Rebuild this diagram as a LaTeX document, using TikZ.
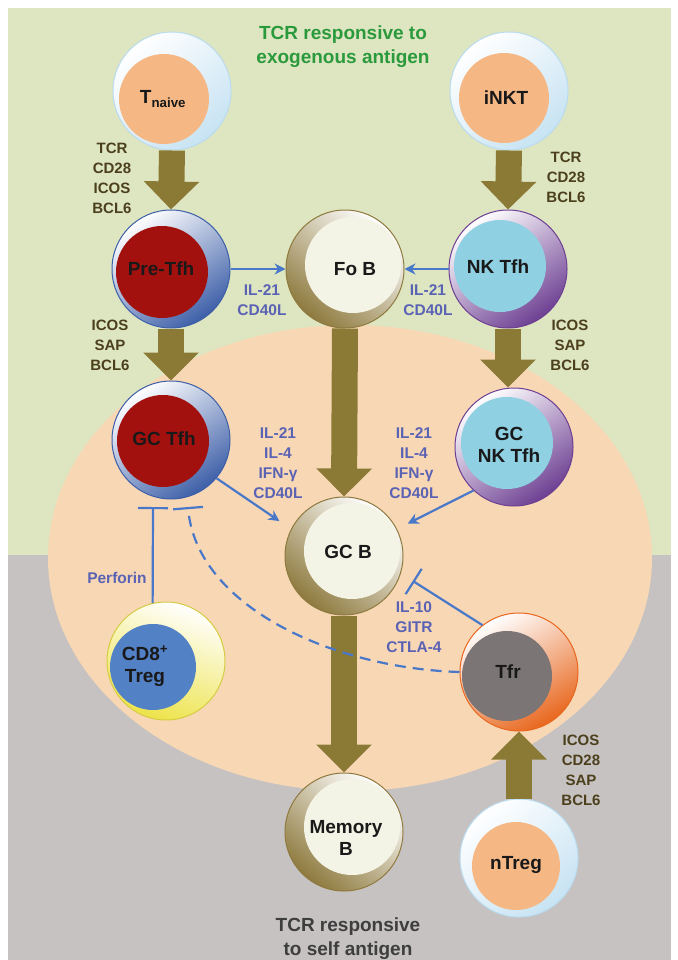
\documentclass[tikz,border=0pt]{standalone}
\usepackage{fontspec}
\setmainfont{Liberation Sans}
\usetikzlibrary{arrows.meta}

\definecolor{bggreen}{HTML}{DEE5C1}
\definecolor{bggray}{HTML}{C6C2C1}
\definecolor{gcpeach}{HTML}{F8D7B5}
\definecolor{arrowolive}{HTML}{8B7A35}
\definecolor{lineblue}{HTML}{4A78C8}
\definecolor{labelblue}{HTML}{5A62B4}
\definecolor{labeldark}{HTML}{4B3F1C}
\definecolor{titlegreen}{HTML}{2A9A3C}
\definecolor{titlegray}{HTML}{3E3E3E}
\definecolor{naivering}{HTML}{B9DCF0}
\definecolor{naiveorange}{HTML}{F5B885}
\definecolor{tfhring}{HTML}{3D5FA8}
\definecolor{tfhred}{HTML}{A3110F}
\definecolor{nkring}{HTML}{6D3F92}
\definecolor{nkblue}{HTML}{8FD0E2}
\definecolor{bring}{HTML}{8E7A3E}
\definecolor{bcream}{HTML}{F4F4E6}
\definecolor{cdring}{HTML}{EDE34A}
\definecolor{cdblue}{HTML}{5281C6}
\definecolor{tfrring}{HTML}{E8671E}
\definecolor{tfrgray}{HTML}{7B7576}

\begin{document}
\begin{tikzpicture}[x=1pt,y=-1pt,
  cell/.style={circle,minimum size=118pt,inner sep=0pt,line width=1pt},
  naivecell/.style={cell,draw=naivering,top color=white,bottom color=naivering!80,shading angle=40},
  tfhcell/.style={cell,draw=tfhring,top color=white,bottom color=tfhring,shading angle=35},
  nkcell/.style={cell,draw=nkring,top color=white,bottom color=nkring,shading angle=35},
  bcell/.style={cell,draw=bring,top color=white,middle color=bring!35,bottom color=bring,shading angle=-40},
  cdcell/.style={cell,draw=cdring!90!black,top color=white,bottom color=cdring,shading angle=-20},
  tfrcell/.style={cell,draw=tfrring,top color=white,bottom color=tfrring,shading angle=30},
  celltext/.style={font=\bfseries\fontsize{19}{22}\selectfont,text=black!90,align=center,inner sep=0pt},
  darklabel/.style={font=\bfseries\fontsize{15}{20}\selectfont,text=labeldark,align=center,inner sep=0pt},
  bluelabel/.style={font=\bfseries\fontsize{15.5}{20}\selectfont,text=labelblue,align=center,inner sep=0pt},
  bigarrow/.style={line width=26pt,draw=arrowolive,-{Triangle[length=28pt,width=54pt]}},
  signal/.style={line width=2.2pt,draw=lineblue,-{Stealth[length=11pt,width=11pt]}},
  inhibit/.style={line width=2.2pt,draw=lineblue,-{Bar[width=30pt,line width=2.2pt]}}]

  \useasboundingbox (0,0) rectangle (677,960);
  \fill[white] (0,0) rectangle (677,960);
  \fill[bggreen] (8,8) rectangle (671,555);
  \fill[bggray] (8,555) rectangle (671,960);
  \fill[gcpeach] (350,558) ellipse (302pt and 233pt);

  \node[titlegreen,anchor=north,align=center,inner sep=0pt,font=\bfseries\fontsize{19}{24}\selectfont] (toptitle) at (343,26) {TCR responsive to\\exogenous antigen};
  \node[titlegray,anchor=north,align=center,inner sep=0pt,font=\bfseries\fontsize{19}{24}\selectfont] (bottomtitle) at (348,918) {TCR responsive\\to self antigen};

  \node[naivecell] (tnaive) at (172,91) {};
  \fill[naiveorange] ([shift={(-8,8)}]tnaive.center) circle (45pt);
  \node[celltext] (tnaivelabel) at ([shift={(-9,8)}]tnaive.center) {T\textsubscript{naive}};

  \node[naivecell] (inkt) at (509,91) {};
  \fill[naiveorange] ([shift={(-5,7)}]inkt.center) circle (45pt);
  \node[celltext] (inktlabel) at ([shift={(-3,7)}]inkt.center) {iNKT};

  \node[tfhcell] (pretfh) at (171,269) {};
  \fill[tfhred] ([shift={(-9,3)}]pretfh.center) circle (46pt);
  \node[celltext] (pretfhlabel) at ([shift={(-10,0)}]pretfh.center) {Pre-Tfh};

  \node[bcell] (fob) at (345,269) {};
  \fill[bcream] ([shift={(8,-4)}]fob.center) circle (48pt);
  \node[celltext] (foblabel) at ([shift={(10,0)}]fob.center) {Fo B};

  \node[nkcell] (nktfh) at (508,269) {};
  \fill[nkblue] ([shift={(-8,-3)}]nktfh.center) circle (46pt);
  \node[celltext] (nktfhlabel) at ([shift={(-10,-2)}]nktfh.center) {NK Tfh};

  \node[tfhcell] (gctfh) at (171,440) {};
  \fill[tfhred] ([shift={(-8,1)}]gctfh.center) circle (46pt);
  \node[celltext] (gctfhlabel) at ([shift={(-7,-1)}]gctfh.center) {GC Tfh};

  \node[nkcell] (gcnktfh) at (514,447) {};
  \fill[nkblue] ([shift={(-7,-4)}]gcnktfh.center) circle (46pt);
  \node[celltext] (gcnktfhlabel) at ([shift={(-5,-2)}]gcnktfh.center) {GC\\NK Tfh};

  \node[bcell] (gcb) at (344,556) {};
  \fill[bcream] ([shift={(8,-5)}]gcb.center) circle (48pt);
  \node[celltext] (gcblabel) at ([shift={(4,-4)}]gcb.center) {GC B};

  \node[cdcell] (cd8) at (166,661) {};
  \fill[cdblue] ([shift={(-13,6)}]cd8.center) circle (43pt);
  \node[celltext] (cd8label) at ([shift={(-21,5)}]cd8.center) {CD8\textsuperscript{+}\\Treg};

  \node[tfrcell] (tfr) at (519,672) {};
  \fill[tfrgray] ([shift={(-12,4)}]tfr.center) circle (45pt);
  \node[celltext] (tfrlabel) at ([shift={(-11,0)}]tfr.center) {Tfr};

  \node[bcell] (memb) at (344,832) {};
  \fill[bcream] ([shift={(8,-5)}]memb.center) circle (48pt);
  \node[celltext] (memblabel) at ([shift={(2,6)}]memb.center) {Memory\\B};

  \node[naivecell] (ntreg) at (519,858) {};
  \fill[naiveorange] ([shift={(-3,8)}]ntreg.center) circle (44pt);
  \node[celltext] (ntreglabel) at ([shift={(-3,7)}]ntreg.center) {nTreg};

  \draw[bigarrow] (tnaive.south) -- (pretfh.north);
  \draw[bigarrow] (inkt.south) -- (nktfh.north);
  \draw[bigarrow] (pretfh.south) -- (gctfh.north);
  \draw[bigarrow] (nktfh.south) -- (nktfh.south |- gcnktfh.north);
  \draw[bigarrow] (fob.south) -- (gcb.north);
  \draw[bigarrow] (gcb.south) -- (memb.north);
  \draw[bigarrow] (ntreg.north) -- (tfr.south);

  \draw[signal] (pretfh.east) -- (fob.west);
  \draw[signal] (nktfh.west) -- (fob.east);
  \draw[signal,shorten >=14pt] (gctfh.-40) -- (gcb.153);
  \draw[signal,shorten >=12pt] (gcnktfh.-133) -- (gcb.27);

  \coordinate (perfbar) at (153,507);
  \coordinate (tfrbar) at (188,507);
  \draw[inhibit] (cd8.103) -- (perfbar);
  \draw[inhibit,dash pattern=on 11pt off 7pt] (tfr.west) .. controls (330,668) and (196,605) .. (tfrbar);
  \draw[inhibit,shorten >=14pt] (tfr.128) -- (gcb.-17);

  \node[darklabel] (tcrleft) at (112,178) {TCR\\CD28\\ICOS\\BCL6};
  \node[darklabel] (tcrright) at (566,177) {TCR\\CD28\\BCL6};
  \node[darklabel] (icosleft) at (110,345) {ICOS\\SAP\\BCL6};
  \node[darklabel] (icosright) at (570,345) {ICOS\\SAP\\BCL6};
  \node[darklabel] (icosntreg) at (581,770) {ICOS\\CD28\\SAP\\BCL6};
  \node[bluelabel] (fobleft) at (262,300) {IL-21\\CD40L};
  \node[bluelabel] (fobright) at (428,300) {IL-21\\CD40L};
  \node[bluelabel] (gcbleft) at (278,463) {IL-21\\IL-4\\IFN-γ\\CD40L};
  \node[bluelabel] (gcbright) at (414,463) {IL-21\\IL-4\\IFN-γ\\CD40L};
  \node[bluelabel] (perforin) at (117,578) {Perforin};
  \node[bluelabel] (tfrsignal) at (414,627) {IL-10\\GITR\\CTLA-4};
\end{tikzpicture}
\end{document}
